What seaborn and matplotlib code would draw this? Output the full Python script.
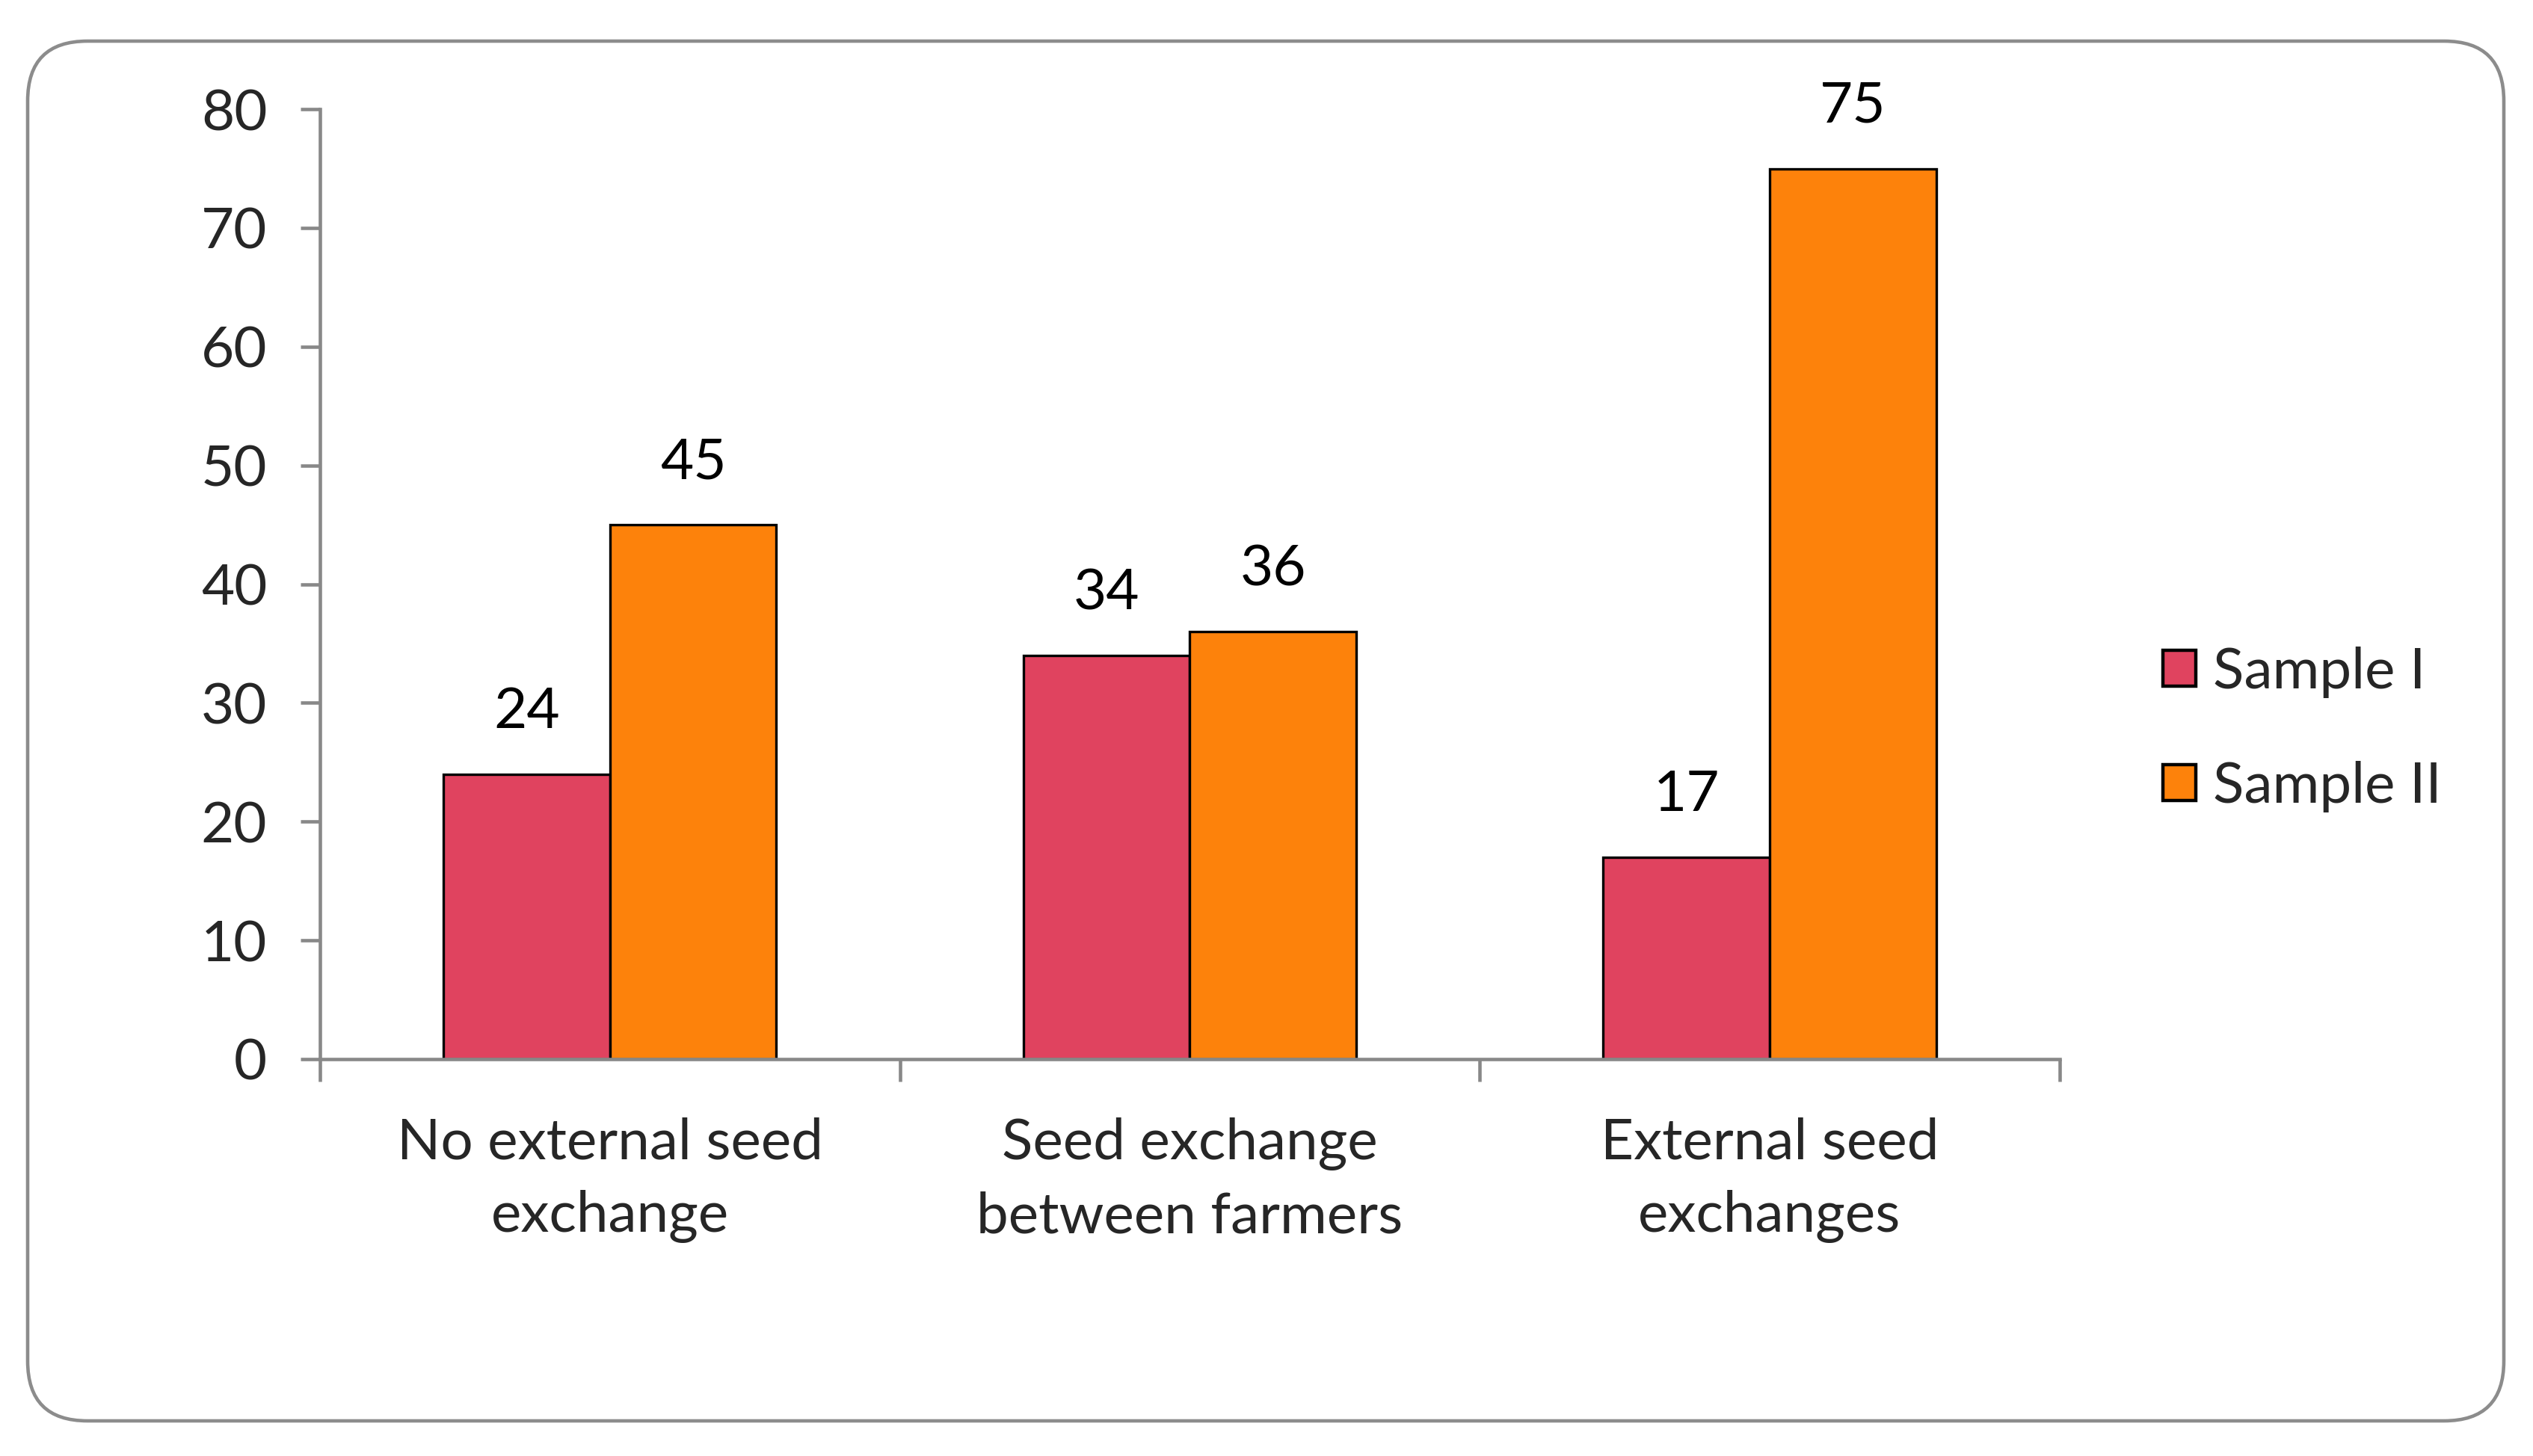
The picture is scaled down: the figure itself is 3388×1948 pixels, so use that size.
import pandas as pd
import seaborn as sns
import matplotlib.pyplot as plt
from matplotlib.patches import FancyBboxPatch, Patch
from matplotlib.transforms import IdentityTransform
from matplotlib.ticker import FixedLocator

# data
categories = ['No external seed\nexchange', 'Seed exchange\nbetween farmers', 'External seed\nexchanges']
sample_1 = [24, 34, 17]
sample_2 = [45, 36, 75]
series = ['Sample I', 'Sample II']
colors = {'Sample I': '#E0435F', 'Sample II': '#FD820B'}

df = pd.DataFrame({
    'category': categories * 2,
    'value': sample_1 + sample_2,
    'sample': [series[0]] * 3 + [series[1]] * 3,
})

sns.set_style('white')
plt.rcParams['font.family'] = ['Lato', 'DejaVu Sans']
FS = 27.5

fig = plt.figure(figsize=(16.94, 9.74), dpi=200)
ax = fig.add_axes([0.1263, 0.2726, 0.6868, 0.6524])

sns.barplot(data=df, x='category', y='value', hue='sample', palette=colors, saturation=1,
            width=0.574, edgecolor='black', linewidth=1.2, ax=ax, legend=False)

# value labels above the bars
for cont in ax.containers:
    for bar in cont:
        h = bar.get_height()
        ax.annotate(f'{h:.0f}', (bar.get_x() + bar.get_width() / 2, h),
                    xytext=(0, 30), textcoords='offset points',
                    ha='center', va='center', fontsize=FS, color='black')

ax.set_xlim(-0.5, 2.5)
ax.set_ylim(0, 80)
ax.set_yticks(range(0, 81, 10))
ax.set_xticks(range(3))
ax.set_xticklabels(categories)
ax.set_xlabel('')
ax.set_ylabel('')

for s in ['top', 'right']:
    ax.spines[s].set_visible(False)
for s in ['left', 'bottom']:
    ax.spines[s].set_color('#888888')
    ax.spines[s].set_linewidth(1.65)
    ax.spines[s].set_zorder(5)

ax.tick_params(axis='y', which='major', length=9.4, width=1.65, color='#888888',
               pad=16, labelsize=FS, left=True)
ax.tick_params(axis='x', which='major', length=0, pad=28, labelsize=FS)
ax.xaxis.set_minor_locator(FixedLocator([-0.5, 0.5, 1.5, 2.5]))
ax.tick_params(axis='x', which='minor', length=10.8, width=1.65, color='#888888',
               bottom=True, direction='out')
for lab in ax.get_xticklabels():
    lab.set_linespacing(1.5)

# legend on the right
handles = [Patch(facecolor=colors[s], edgecolor='black', linewidth=1.6, label=s) for s in series]
fig.legend(handles=handles, loc='center left', bbox_to_anchor=(0.8335, 0.499),
           frameon=False, fontsize=FS, handlelength=0.58, handleheight=0.58,
           handletextpad=0.3, labelspacing=1.1)

# rounded outer frame, in pixels
frame = FancyBboxPatch((37, 47), 3312, 1846, boxstyle='round,pad=0,rounding_size=80',
                       transform=IdentityTransform(), facecolor='none',
                       edgecolor='#8C8C8C', linewidth=1.65)
fig.patches.append(frame)

fig.savefig('out.png', dpi=200)
